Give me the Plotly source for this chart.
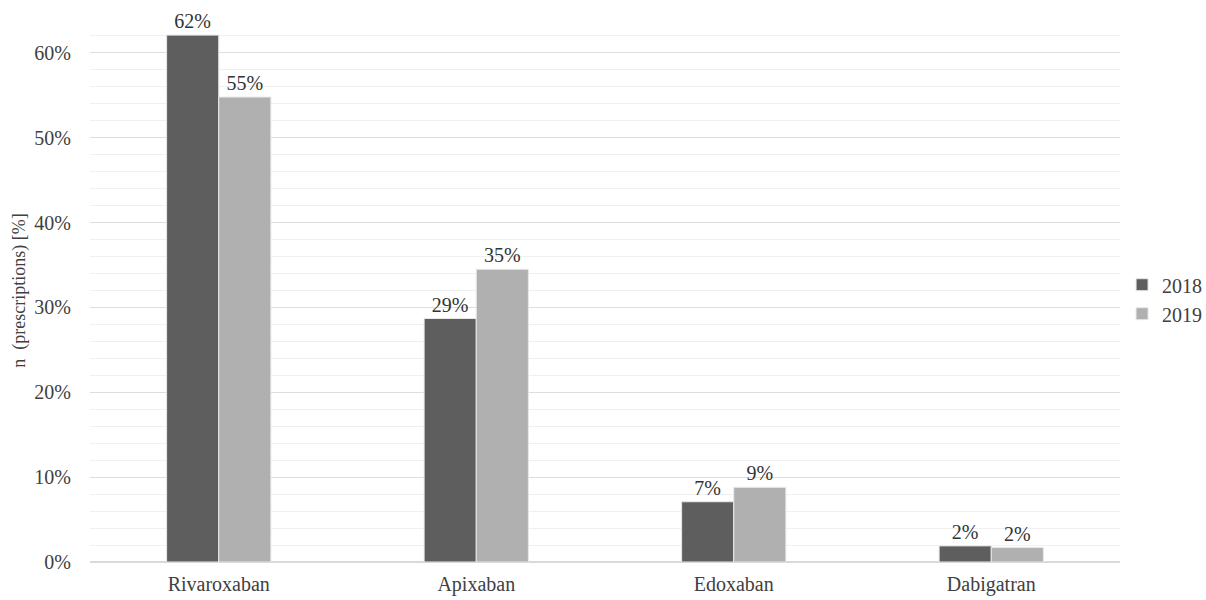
import plotly.graph_objects as go

categories = ["Rivaroxaban", "Apixaban", "Edoxaban", "Dabigatran"]
vals_2018 = [0.621, 0.287, 0.071, 0.019]
vals_2019 = [0.548, 0.345, 0.088, 0.017]
series_names = ["2018", "2019"]
colors = ["#5e5e5e", "#b0b0b0"]

font_family = "Liberation Serif, Times New Roman, serif"

fig = go.Figure()
for name, vals, col in zip(series_names, [vals_2018, vals_2019], colors):
    fig.add_trace(go.Bar(
        x=categories, y=vals, name=name,
        marker=dict(color=col, line=dict(color="#e8e8e8", width=1)),
        texttemplate="%{y:.0%}", textposition="outside",
        textfont=dict(family=font_family, size=20, color="#333333"),
        cliponaxis=False,
    ))

fig.update_layout(
    width=1206, height=600,
    margin=dict(l=90, r=86, t=19, b=38, autoexpand=False),
    plot_bgcolor="white", paper_bgcolor="white",
    barmode="group", bargap=0.595, bargroupgap=0,
    font=dict(family=font_family, size=20, color="#404040"),
    legend=dict(x=1.002, y=0.484, yanchor="middle", xanchor="left",
                font=dict(size=20, color="#404040"), itemwidth=30,
                tracegroupgap=0),
    showlegend=True,
)
fig.update_xaxes(showline=True, linecolor="#d9d9d9", linewidth=1, automargin=False,
                 ticks="", tickfont=dict(size=20), ticklabelstandoff=4)
fig.update_yaxes(range=[0, 0.64], dtick=0.1, tickformat=".0%", automargin=False,
                 showgrid=True, gridcolor="#dedede", gridwidth=1,
                 zeroline=True, zerolinecolor="#d9d9d9",
                 minor=dict(dtick=0.02, showgrid=True, gridcolor="#f0f0f0"),
                 ticklabelstandoff=18, tickfont=dict(size=20),
                 title=dict(text="n  (prescriptions) [%]", font=dict(size=18), standoff=4))

fig.write_html("out.html")
